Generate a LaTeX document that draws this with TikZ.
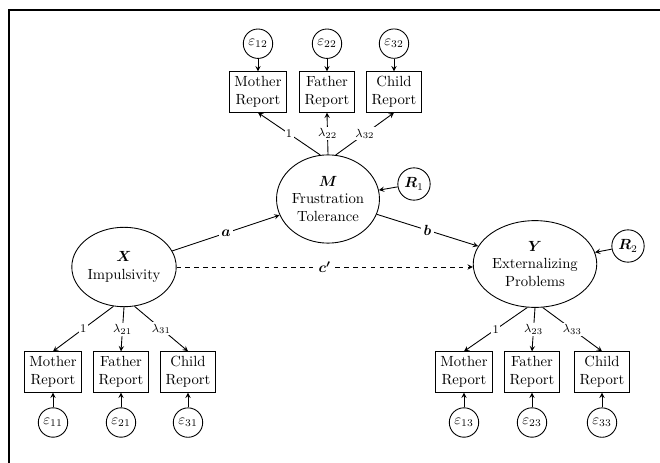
\documentclass[tikz,border=0pt]{standalone}
\usepackage{bm}
\usetikzlibrary{shapes, arrows, positioning, calc}

\begin{document}
\begin{tikzpicture}[x=0.68pt, y=-0.68pt, >=stealth, semithick,
	latent/.style={draw, ellipse, inner sep=0pt, align=center},
	indicator/.style={draw, rectangle, align=center, inner sep=3.3pt},
	err/.style={draw, circle, minimum size=20pt, inner sep=0pt},
	resid/.style={draw, circle, minimum size=22pt, inner sep=0pt},
	load/.style={midway, fill=white, inner sep=1pt, font=\footnotesize},
	effect/.style={midway, fill=white, inner sep=1.5pt}]
	\useasboundingbox (0,0) rectangle (660,463);
	\draw[line width=1.4pt] (660,10) -- (9,10) -- (9,463);

	\node[latent, minimum width=71pt, minimum height=54pt] (X) at (124,267) {$\bm{X}$\\Impulsivity};
	\node[latent, minimum width=70pt, minimum height=60pt] (M) at (328,199) {$\bm{M}$\\Frustration\\Tolerance};
	\node[latent, minimum width=84pt, minimum height=59pt] (Y) at (535,264) {$\bm{Y}$\\Externalizing\\Problems};
	\node[resid] (R1) at (414,184) {$\bm{R}_1$};
	\node[resid] (R2) at (628,246) {$\bm{R}_2$};

	% mediator
	\node[indicator] (m1) at (258,92) {Mother\\Report};
	\node[indicator] (m2) at (327,92) {Father\\Report};
	\node[indicator] (m3) at (394,92) {Child\\Report};
	\node[err, above=8.5pt of m1] (e12) {$\varepsilon_{12}$};
	\node[err, above=8.5pt of m2] (e22) {$\varepsilon_{22}$};
	\node[err, above=8.5pt of m3] (e32) {$\varepsilon_{32}$};

	% predictor
	\node[indicator] (x1) at (53,372) {Mother\\Report};
	\node[indicator] (x2) at (121,372) {Father\\Report};
	\node[indicator] (x3) at (188,372) {Child\\Report};
	\node[err, below=10pt of x1] (e11) {$\varepsilon_{11}$};
	\node[err, below=10pt of x2] (e21) {$\varepsilon_{21}$};
	\node[err, below=10pt of x3] (e31) {$\varepsilon_{31}$};

	% outcome
	\node[indicator] (y1) at (464,372) {Mother\\Report};
	\node[indicator] (y2) at (532,372) {Father\\Report};
	\node[indicator] (y3) at (602,372) {Child\\Report};
	\node[err, below=10pt of y1] (e13) {$\varepsilon_{13}$};
	\node[err, below=10pt of y2] (e23) {$\varepsilon_{23}$};
	\node[err, below=10pt of y3] (e33) {$\varepsilon_{33}$};

	\draw[->] (M.100) -- node[load] {1} (m1.south);
	\draw[->] (M.north) -- node[load] {$\lambda_{22}$} (m2.south);
	\draw[->] (M.80) -- node[load] {$\lambda_{32}$} (m3.south);
	\draw[->] (X.255) -- node[load] {1} (x1.north);
	\draw[->] (X.south) -- node[load] {$\lambda_{21}$} (x2.north);
	\draw[->] (X.285) -- node[load] {$\lambda_{31}$} (x3.north);
	\draw[->] (Y.260) -- node[load] {1} (y1.north);
	\draw[->] (Y.south) -- node[load] {$\lambda_{23}$} (y2.north);
	\draw[->] (Y.280) -- node[load] {$\lambda_{33}$} (y3.north);

	\draw[->] (e12) -- (m1);
	\draw[->] (e22) -- (m2);
	\draw[->] (e32) -- (m3);
	\draw[->] (e11) -- (x1);
	\draw[->] (e21) -- (x2);
	\draw[->] (e31) -- (x3);
	\draw[->] (e13) -- (y1);
	\draw[->] (e23) -- (y2);
	\draw[->] (e33) -- (y3);

	\draw[->] (R1) -- (M);
	\draw[->] (R2) -- (Y);
	\draw[->] (X) -- node[effect] {$\bm{a}$} (M);
	\draw[->] (M) -- node[effect] {$\bm{b}$} (Y);
	\draw[->, dashed] (X.east) -- node[effect] {$\bm{c'}$} (X.east -| Y.west);
\end{tikzpicture}
\end{document}
